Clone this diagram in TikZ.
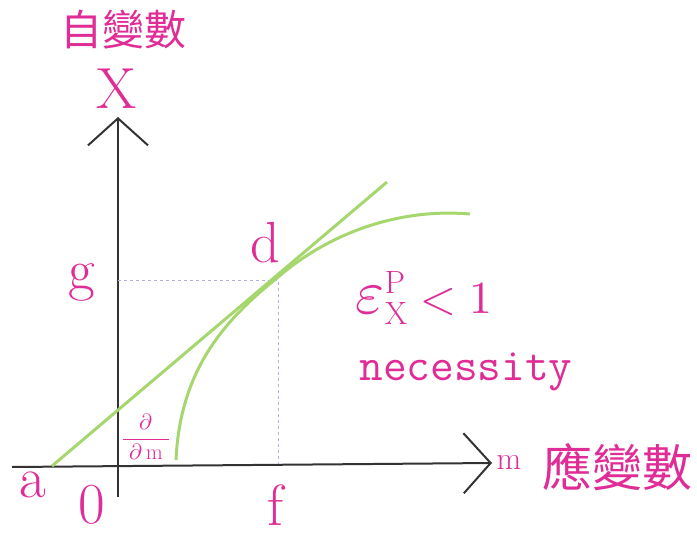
\documentclass[tikz,border=0pt]{standalone}
\usepackage{fontspec}
\usepackage{unicode-math}
\newfontfamily\cjk{Noto Sans CJK TC}
\usepackage{tikz}
\usetikzlibrary{arrows.meta,positioning}
\definecolor{pinklabel}{RGB}{224,44,150}
\definecolor{curvegreen}{RGB}{166,214,110}
\definecolor{guidelav}{RGB}{176,176,230}
\tikzset{>={Straight Barb[length=27pt,width=60pt,line width=2pt]}}
\tikzset{axisline/.style={draw=black!80, line width=2pt, ->},
  guide/.style={draw=guidelav, dashed, line width=0.8pt},
  greenline/.style={draw=curvegreen, line width=3pt},
  bigletter/.style={text=pinklabel, font=\fontsize{58}{60}\selectfont, inner sep=0pt},
  cjklabel/.style={text=pinklabel, inner sep=0pt}}

\begin{document}
\begin{tikzpicture}[x=1pt,y=-1pt]
  \useasboundingbox (0,0) rectangle (697,536);
  % axes
  \coordinate (origin) at (118,466);
  \coordinate (xtip) at (492,463);
  \coordinate (ytip) at (118,117);
  \draw[axisline] (12,467) -- (xtip);
  \draw[axisline] (118,497) -- (ytip);
  % guide lines to d
  \coordinate (d) at (277,278);
  \coordinate (gpt) at (118,280);
  \coordinate (fpt) at (278,464);
  \draw[guide] (gpt) -- (fpt |- gpt) -- (fpt);
  % tangent and curve
  \coordinate (a) at (52,466);
  \coordinate (tangentend) at (387,182);
  \draw[greenline] (a) -- (tangentend);
  \draw[greenline] (176,460) .. controls (180,372) and (222,322) .. (d)
    .. controls (330,232) and (400,208) .. (470,214);
  % labels
  \node[cjklabel, font=\cjk\fontsize{42}{44}\selectfont] (xname) at (123,30) {自變數};
  \node[bigletter] (xlab) at (117,89) {X};
  \node[bigletter] (glab) at (82,282) {g};
  \node[bigletter] (dlab) at (265,243) {d};
  \node[bigletter] (alab) at (33,485) {a};
  \node[bigletter] (zerolab) at (92,505) {0};
  \node[bigletter] (flab) at (276,505) {f};
  \node[text=pinklabel, font=\fontsize{32}{34}\selectfont, inner sep=0pt] (mlab) at (509,462) {m};
  \node[cjklabel, font=\cjk\fontsize{50}{52}\selectfont] (yname) at (617,467) {應變數};
  \node[text=pinklabel, font=\fontsize{46}{48}\selectfont, inner sep=0pt] (elas) at (424,298)
    {${\scalebox{1.35}{$\varepsilon$}}^{\mathrm{P}}_{\mathrm{X}}\;{<}\;1$};
  \node[text=pinklabel, font=\ttfamily\fontsize{46}{48}\selectfont, inner sep=0pt] (necess) at (466,372) {necessity};
  \node[text=pinklabel, font=\fontsize{22}{24}\selectfont, inner sep=0pt] (deriv) at (146,437)
    {$\displaystyle\frac{\partial}{\;\partial\,\mathrm{m}\;}$};
\end{tikzpicture}
\end{document}
